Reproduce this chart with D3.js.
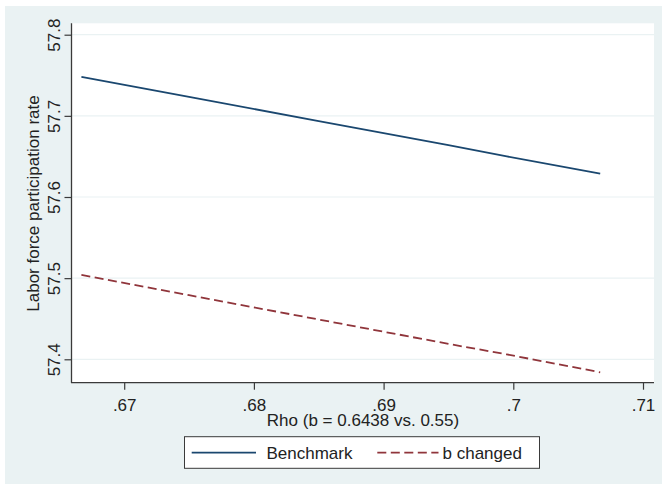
<!DOCTYPE html>
<html>
<head>
<meta charset="utf-8">
<script src="https://cdn.jsdelivr.net/npm/d3@7"></script>
<style>
  html, body { margin: 0; padding: 0; background: #ffffff; }
  svg { display: block; }
  text { font-family: "Liberation Sans", Arial, sans-serif; fill: #222; }
</style>
</head>
<body>
<svg id="chart" width="662" height="489"></svg>
<script>
// ---- data ----
const rho = [0.6667, 0.675, 0.685, 0.695, 0.6995, 0.7067];
const benchmark = [57.748, 57.7235, 57.6935, 57.6638, 57.650, 57.6287];
const bChanged = [57.504, 57.479, 57.449, 57.419, 57.406, 57.384];
const xTicks = [0.67, 0.68, 0.69, 0.70, 0.71];
const xTickLabels = [".67", ".68", ".69", ".7", ".71"];
const yTicks = [57.4, 57.5, 57.6, 57.7, 57.8];
const yTickLabels = ["57.4", "57.5", "57.6", "57.7", "57.8"];
const seriesNames = ["Benchmark", "b changed"];
const xTitle = "Rho (b = 0.6438 vs. 0.55)";
const yTitle = "Labor force participation rate";

// ---- layout ----
const W = 662, H = 489;
const FS = "17px";
const plot = { left: 72, right: 654, top: 23.3, bottom: 382.7 };
const colors = ["#1a476f", "#90353b"];

const svg = d3.select("#chart");

// outer graph region
svg.append("rect").attr("x", 5).attr("y", 6).attr("width", W - 5).attr("height", 478)
  .attr("fill", "#eaf2f3");

// plot region
svg.append("rect").attr("x", plot.left).attr("y", plot.top)
  .attr("width", plot.right - plot.left).attr("height", plot.bottom - plot.top)
  .attr("fill", "#ffffff");

const x = d3.scaleLinear().domain([0.665975, 0.710848]).range([plot.left, plot.right]);
const y = d3.scaleLinear().domain([57.37116, 57.81405]).range([plot.bottom, plot.top]);

// gridlines
svg.append("g").selectAll("line").data(yTicks).join("line")
  .attr("x1", plot.left).attr("x2", plot.right)
  .attr("y1", d => y(d)).attr("y2", d => y(d))
  .attr("stroke", "#eaf2f3").attr("stroke-width", 1.2);

// y axis
const yAxis = d3.axisLeft(y).tickValues(yTicks)
  .tickFormat((d, i) => yTickLabels[i]).tickSize(7).tickPadding(4);
const gy = svg.append("g").attr("transform", `translate(${plot.left - 0.5},0)`).call(yAxis);
gy.select(".domain").attr("stroke", "#3a3a3a").attr("stroke-width", 1.3)
  .attr("d", `M0,${plot.top}V${plot.bottom}`);
gy.selectAll(".tick line").attr("stroke", "#3a3a3a").attr("stroke-width", 1.2);
gy.selectAll(".tick text")
  .attr("x", null).attr("dy", null)
  .attr("transform", "translate(-11.5,0) rotate(-90)")
  .attr("text-anchor", "middle")
  .style("font-size", FS).style("fill", "#222");

// x axis
const xAxis = d3.axisBottom(x).tickValues(xTicks)
  .tickFormat((d, i) => xTickLabels[i]).tickSize(7).tickPadding(4);
const gx = svg.append("g").attr("transform", `translate(0,${plot.bottom})`).call(xAxis);
gx.select(".domain").attr("stroke", "#3a3a3a").attr("stroke-width", 1.3)
  .attr("d", `M${plot.left - 1},0H${plot.right}`);
gx.selectAll(".tick line").attr("stroke", "#3a3a3a").attr("stroke-width", 1.2);
gx.selectAll(".tick text").attr("dy", null).attr("y", 28.3)
  .style("font-size", FS).style("fill", "#222");

// axis titles
svg.append("text").attr("x", (plot.left + plot.right) / 2).attr("y", 426)
  .attr("text-anchor", "middle").style("font-size", FS).text(xTitle);
svg.append("text")
  .attr("transform", `translate(39,${(plot.top + plot.bottom) / 2 + 0.5}) rotate(-90)`)
  .attr("text-anchor", "middle").style("font-size", FS).text(yTitle);

// lines
const line = d3.line().x((d, i) => x(rho[i])).y(d => y(d));
svg.append("path").datum(benchmark).attr("d", line)
  .attr("fill", "none").attr("stroke", colors[0]).attr("stroke-width", 1.8);
svg.append("path").datum(bChanged).attr("d", line)
  .attr("fill", "none").attr("stroke", colors[1]).attr("stroke-width", 1.8)
  .attr("stroke-dasharray", "9,4.5");

// legend
const lg = svg.append("g");
lg.append("rect").attr("x", 184.5).attr("y", 436.7).attr("width", 355).attr("height", 31.6)
  .attr("fill", "#ffffff").attr("stroke", "#3a3a3a").attr("stroke-width", 1);
const legendItems = [
  { name: seriesNames[0], color: colors[0], dash: null, x1: 191.7, x2: 256, tx: 266.5 },
  { name: seriesNames[1], color: colors[1], dash: "9,4.5", x1: 377.3, x2: 438.5, tx: 442.5 }
];
legendItems.forEach(it => {
  lg.append("line").attr("x1", it.x1).attr("x2", it.x2).attr("y1", 452.7).attr("y2", 452.7)
    .attr("stroke", it.color).attr("stroke-width", 1.8)
    .attr("stroke-dasharray", it.dash);
  lg.append("text").attr("x", it.tx).attr("y", 458.5).style("font-size", FS).text(it.name);
});
</script>
</body>
</html>
